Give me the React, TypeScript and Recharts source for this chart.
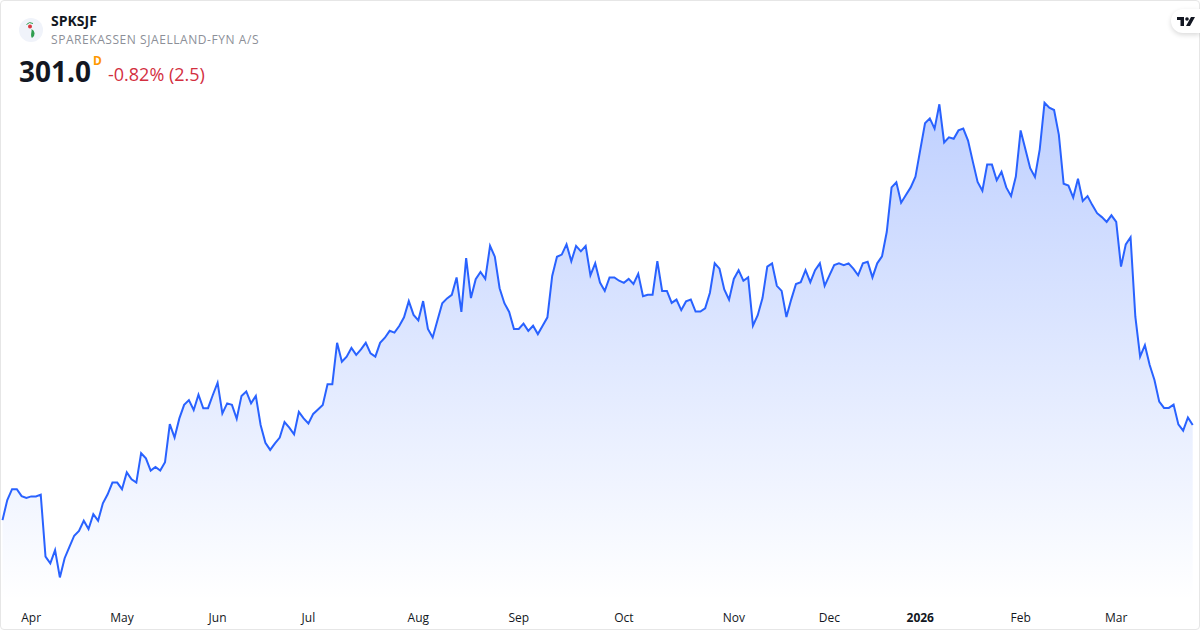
import React from 'react'
import { Area, AreaChart, XAxis, YAxis } from 'recharts'

const prices: number[] = [
  269.3, 276.0, 279.6, 279.6, 277.3, 276.7, 277.2, 277.2, 277.8, 257.1,
  254.9, 259.3, 250.2, 256.6, 260.4, 264.1, 265.7, 269.1, 266.3, 271.3,
  269.1, 274.9, 277.9, 281.8, 281.8, 279.6, 285.2, 282.9, 281.8, 291.6,
  289.9, 285.8, 287.0, 285.8, 288.6, 301.3, 296.8, 303.2, 307.7, 309.3,
  306.0, 311.1, 306.6, 306.6, 311.0, 315.1, 304.9, 308.2, 307.7, 303.1,
  310.7, 312.2, 308.2, 310.7, 301.0, 295.1, 292.7, 294.9, 296.8, 302.0,
  300.1, 297.9, 305.4, 303.2, 301.5, 304.7, 306.2, 307.7, 314.6, 314.6,
  328.4, 322.1, 323.8, 326.7, 324.4, 326.2, 328.4, 324.9, 323.8, 328.4,
  330.1, 332.4, 331.8, 334.0, 336.9, 342.3, 337.7, 335.9, 342.3, 333.0,
  330.2, 335.9, 341.6, 343.2, 344.4, 350.2, 338.7, 356.6, 343.3, 349.6,
  352.0, 349.7, 360.7, 357.1, 346.6, 341.6, 338.7, 333.0, 333.0, 334.8,
  332.4, 334.1, 331.3, 334.1, 336.9, 350.7, 357.1, 357.8, 361.2, 355.6,
  360.7, 358.9, 360.7, 350.9, 354.9, 348.5, 345.7, 350.2, 350.2, 349.1,
  348.4, 349.7, 348.0, 351.4, 343.9, 344.4, 344.4, 355.6, 345.7, 345.7,
  341.7, 342.8, 339.3, 342.2, 342.8, 338.8, 338.8, 339.9, 345.1, 354.9,
  353.1, 346.2, 342.8, 349.7, 352.6, 349.1, 350.2, 334.1, 337.6, 343.3,
  353.8, 354.9, 347.4, 345.7, 337.0, 342.8, 348.0, 348.6, 352.6, 348.6,
  352.6, 354.9, 347.4, 350.9, 354.3, 354.9, 354.3, 354.9, 353.1, 350.9,
  354.9, 355.4, 350.2, 354.9, 357.2, 365.4, 380.2, 381.9, 375.1, 377.7,
  380.2, 383.8, 392.7, 401.6, 403.2, 399.8, 407.9, 395.2, 396.9, 396.4,
  399.2, 399.8, 395.8, 388.8, 382.0, 379.1, 387.8, 387.8, 382.6, 385.4,
  380.2, 377.3, 383.8, 399.2, 392.9, 386.6, 383.7, 392.9, 408.4, 406.8,
  406.0, 397.7, 381.4, 380.8, 376.8, 383.1, 375.7, 377.3, 374.3, 371.6,
  370.3, 368.7, 370.9, 368.7, 353.8, 361.2, 363.6, 337.1, 323.8, 327.6,
  321.0, 316.0, 308.8, 306.7, 306.7, 307.8, 301.2, 299.1, 303.5, 301.0,
]

const tickIndex = [6, 25, 45, 64, 87, 108, 130, 153, 173, 192, 213, 233]
const tickLabels = ['Apr', 'May', 'Jun', 'Jul', 'Aug', 'Sep', 'Oct', 'Nov', 'Dec', '2026', 'Feb', 'Mar']

const chartData = prices.map((price, idx) => ({ idx, price }))

const font = '"Open Sans", sans-serif'

const MonthTick = (props: any) => {
  const label = tickLabels[tickIndex.indexOf(props.payload.value)]
  return (
    <text
      x={props.x}
      y={622}
      textAnchor="middle"
      fontFamily={font}
      fontSize={12}
      fontWeight={label === '2026' ? 700 : 400}
      fill="#131722"
    >
      {label}
    </text>
  )
}

const App = () => {
  return (
    <div style={{ position: 'fixed', left: 0, top: 0, width: 1200, height: 630, background: '#fff', fontFamily: font }}>
      <AreaChart
        width={1200}
        height={630}
        data={chartData}
        margin={{ top: 0, right: 7.3, bottom: 0, left: 2.5 }}
      >
        <defs>
          <linearGradient id="areaFill" x1="0" y1="0" x2="0" y2="1">
            <stop offset="0%" stopColor="#2962ff" stopOpacity={0.3} />
            <stop offset="100%" stopColor="#2962ff" stopOpacity={0} />
          </linearGradient>
        </defs>
        <XAxis
          dataKey="idx"
          type="number"
          domain={[0, 249]}
          ticks={tickIndex}
          interval={0}
          height={30}
          axisLine={false}
          tickLine={false}
          tick={<MonthTick />}
        />
        <YAxis hide domain={[242.67, 442.67]} allowDataOverflow />
        <Area
          type="linear"
          dataKey="price"
          stroke="#2962ff"
          strokeWidth={2}
          fill="url(#areaFill)"
          fillOpacity={1}
          dot={false}
          activeDot={false}
          isAnimationActive={false}
        />
      </AreaChart>

      <div style={{ position: 'absolute', inset: 0, boxSizing: 'border-box', border: '1px solid #e6e6e6', borderRadius: 4, pointerEvents: 'none' }} />

      <svg width={24} height={24} style={{ position: 'absolute', left: 19, top: 18 }}>
        <circle cx={12} cy={12} r={12} fill="#f0f3fa" />
        <circle cx={11} cy={8.5} r={2} fill="#d9363e" />
        <path d="M7.5 6.5 A5 5 0 0 1 14 5.5" stroke="#2e9e4f" strokeWidth={1} fill="none" />
        <path d="M12.5 11 A5 5 0 0 1 13 20 C11 17 13 14 12.5 11 Z" fill="#2e9e4f" />
      </svg>

      <div style={{ position: 'absolute', left: 51, top: 12, fontSize: 14, lineHeight: '18px', fontWeight: 700, color: '#131722' }}>SPKSJF</div>
      <div style={{ position: 'absolute', left: 51, top: 32, fontSize: 12, lineHeight: '16px', letterSpacing: 0.56, color: '#8c8f98', whiteSpace: 'nowrap' }}>SPAREKASSEN SJAELLAND-FYN A/S</div>
      <div style={{ position: 'absolute', left: 19, top: 52, fontSize: 28, lineHeight: '38px', fontWeight: 700, color: '#131722' }}>301.0</div>
      <div style={{ position: 'absolute', left: 93, top: 53, fontSize: 12, lineHeight: '16px', fontWeight: 700, color: '#ff9800' }}>D</div>
      <div style={{ position: 'absolute', left: 108, top: 62, fontSize: 18, lineHeight: '25px', color: '#d32f3f' }}>-0.82% (2.5)</div>

      <div style={{ position: 'absolute', left: 1171, top: 9, width: 29, height: 24, background: '#fff', borderRadius: '12px 0 0 12px', boxShadow: '0 2px 5px rgba(0,0,0,0.15)' }}>
        <svg width={18} height={9} viewBox="0 0 18 9" style={{ position: 'absolute', left: 6, top: 8 }}>
          <path d="M0 0H7V9H3.5V3H0Z M14 0H18L13 9H9Z" fill="#131722" />
          <circle cx={10} cy={2} r={1.8} fill="#131722" />
        </svg>
      </div>
    </div>
  )
}

export default App
